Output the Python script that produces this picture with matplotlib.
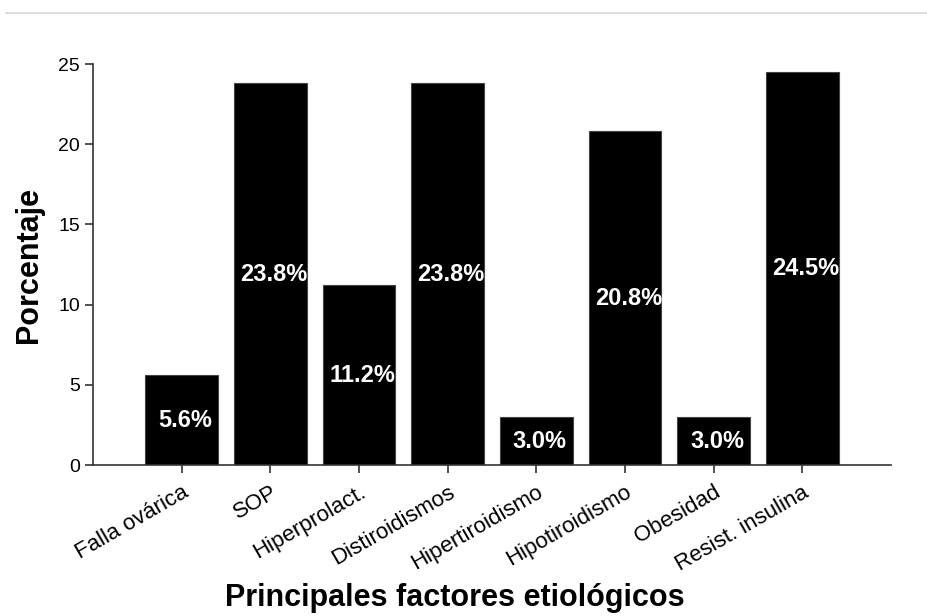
import matplotlib.pyplot as plt
from matplotlib.lines import Line2D

# datos
categorias = ["Falla ovárica", "SOP", "Hiperprolact.", "Distiroidismos",
              "Hipertiroidismo", "Hipotiroidismo", "Obesidad", "Resist. insulina"]
porcentajes = [5.6, 23.8, 11.2, 23.8, 3.0, 20.8, 3.0, 24.5]
yticks = [0, 5, 10, 15, 20, 25]

plt.rcParams["font.family"] = ["Liberation Sans", "DejaVu Sans"]

fig = plt.figure(figsize=(9.28, 6.16), dpi=100)
ax = fig.add_axes([0.1002, 0.245, 0.8598, 0.651])

x = list(range(len(categorias)))
ax.bar(x, porcentajes, width=0.82, color="black", edgecolor="#444444", linewidth=0.8)

for xi, v in zip(x, porcentajes):
    ax.text(xi + 0.04, v / 2, f"{v:.1f}%", color="white", fontsize=17,
            fontweight="bold", ha="center", va="center")

ax.set_xlim(-1, 8)
ax.set_ylim(0, 25)
ax.set_yticks(yticks)
ax.set_yticklabels([str(t) for t in yticks], fontsize=14,
                   family=["Liberation Sans Narrow", "Liberation Sans"])
ax.set_xticks(x)
ax.set_xticklabels(categorias, rotation=30, ha="right", rotation_mode="anchor",
                   fontsize=16)

for s in ["top", "right"]:
    ax.spines[s].set_visible(False)
for s in ["left", "bottom"]:
    ax.spines[s].set_color("#333333")
    ax.spines[s].set_linewidth(1.2)
ax.tick_params(axis="both", direction="out", length=6, width=1.2, color="#333333")
ax.tick_params(axis="x", pad=6)

ax.set_ylabel("Porcentaje", fontsize=22, fontweight="bold", labelpad=10)
fig.text(0.49, 0.03, "Principales factores etiológicos", fontsize=22,
         fontweight="bold", ha="center", va="center")

# linea gris superior
fig.add_artist(Line2D([0.006, 1.0], [0.979, 0.979], color="#dddddd", linewidth=1.5,
                      transform=fig.transFigure))

plt.savefig("out.png", dpi=100)
